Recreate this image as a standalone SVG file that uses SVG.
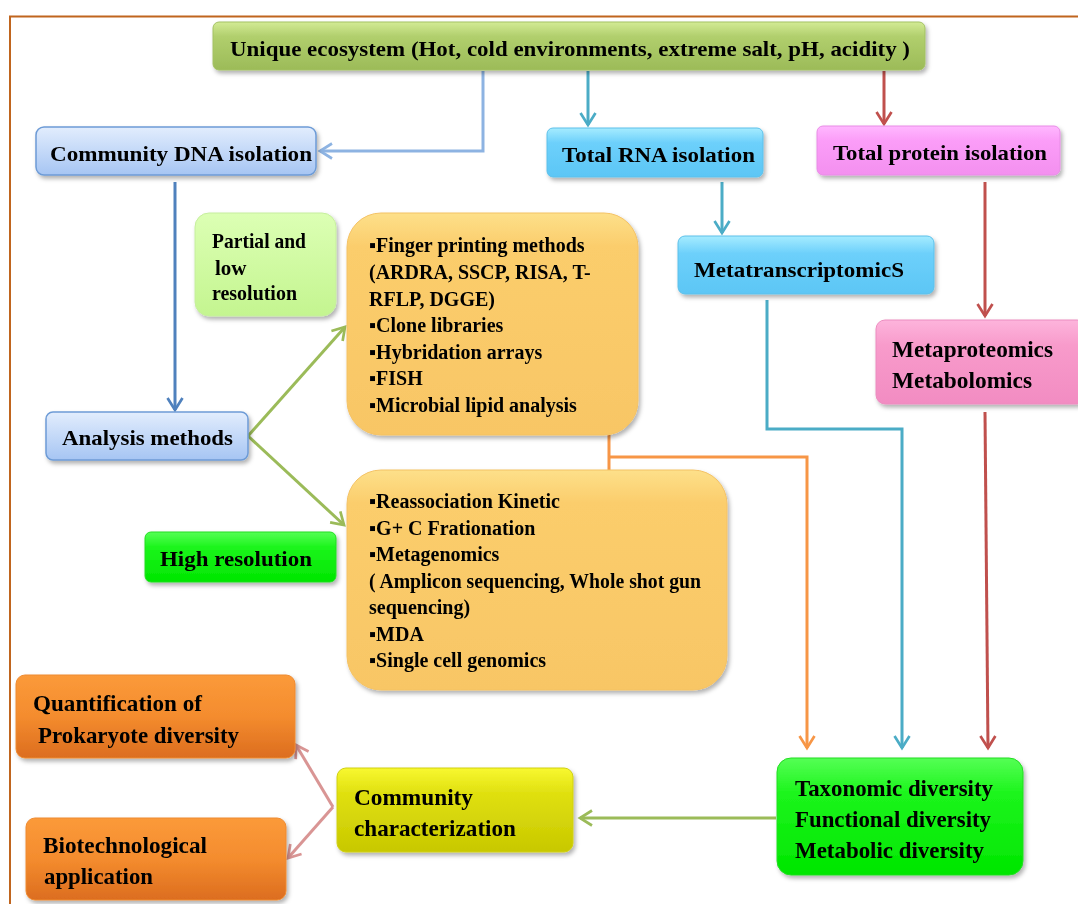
<svg xmlns="http://www.w3.org/2000/svg" width="1078" height="904" viewBox="0 0 1078 904">
<defs>
<style>
.t{font-family:"Liberation Serif","Times New Roman",serif;font-weight:bold;fill:#000;}
.t22{font-size:22px;}
.t23{font-size:23px;}
.t20{font-size:20px;}
.t21{font-size:21px;}
.c{fill:none;stroke-width:3;}
</style>
<filter id="sh" x="-10%" y="-10%" width="125%" height="130%">
<feDropShadow dx="2" dy="3" stdDeviation="2" flood-color="#000" flood-opacity="0.3"/>
</filter>
<linearGradient id="gTop" x1="0" y1="0" x2="0" y2="1"><stop offset="0" stop-color="#d3eb95"/><stop offset="0.3" stop-color="#b1cf6d"/><stop offset="1" stop-color="#9cbb58"/></linearGradient>
<linearGradient id="gBlue" x1="0" y1="0" x2="0" y2="1"><stop offset="0" stop-color="#e2edfd"/><stop offset="1" stop-color="#a6c5f3"/></linearGradient>
<linearGradient id="gCyan" x1="0" y1="0" x2="0" y2="1"><stop offset="0" stop-color="#a6ecff"/><stop offset="0.3" stop-color="#6dd0fb"/><stop offset="1" stop-color="#5cc6f5"/></linearGradient>
<linearGradient id="gPink" x1="0" y1="0" x2="0" y2="1"><stop offset="0" stop-color="#ffb8ff"/><stop offset="0.3" stop-color="#fb9df8"/><stop offset="1" stop-color="#f390ef"/></linearGradient>
<linearGradient id="gLGreen" x1="0" y1="0" x2="0" y2="1"><stop offset="0" stop-color="#dcffb4"/><stop offset="1" stop-color="#c4f590"/></linearGradient>
<linearGradient id="gOr" x1="0" y1="0" x2="0" y2="1"><stop offset="0" stop-color="#fde08a"/><stop offset="0.15" stop-color="#fbcd6c"/><stop offset="1" stop-color="#f8c665"/></linearGradient>
<linearGradient id="gMP" x1="0" y1="0" x2="0" y2="1"><stop offset="0" stop-color="#fdb4dc"/><stop offset="0.3" stop-color="#f89bcb"/><stop offset="1" stop-color="#f28cc2"/></linearGradient>
<linearGradient id="gHG" x1="0" y1="0" x2="0" y2="1"><stop offset="0" stop-color="#55ff55"/><stop offset="0.3" stop-color="#1cf51c"/><stop offset="1" stop-color="#00e600"/></linearGradient>
<linearGradient id="gDO" x1="0" y1="0" x2="0" y2="1"><stop offset="0" stop-color="#fb9a3a"/><stop offset="0.5" stop-color="#f48c2e"/><stop offset="1" stop-color="#dc6d1f"/></linearGradient>
<linearGradient id="gY" x1="0" y1="0" x2="0" y2="1"><stop offset="0" stop-color="#f8f830"/><stop offset="0.3" stop-color="#e0e010"/><stop offset="1" stop-color="#c8c800"/></linearGradient>
<marker id="mLB" viewBox="0 0 12 12" refX="9" refY="6" markerWidth="6" markerHeight="6" orient="auto" markerUnits="strokeWidth"><path d="M1,1 L9,6 L1,11" fill="none" stroke="#8db3e2" stroke-width="1.8"/></marker>
<marker id="mB" viewBox="0 0 12 12" refX="9" refY="6" markerWidth="6" markerHeight="6" orient="auto" markerUnits="strokeWidth"><path d="M1,1 L9,6 L1,11" fill="none" stroke="#4f81bd" stroke-width="1.8"/></marker>
<marker id="mT" viewBox="0 0 12 12" refX="9" refY="6" markerWidth="6" markerHeight="6" orient="auto" markerUnits="strokeWidth"><path d="M1,1 L9,6 L1,11" fill="none" stroke="#4bacc6" stroke-width="1.8"/></marker>
<marker id="mR" viewBox="0 0 12 12" refX="9" refY="6" markerWidth="6" markerHeight="6" orient="auto" markerUnits="strokeWidth"><path d="M1,1 L9,6 L1,11" fill="none" stroke="#c0504d" stroke-width="1.8"/></marker>
<marker id="mG" viewBox="0 0 12 12" refX="9" refY="6" markerWidth="6" markerHeight="6" orient="auto" markerUnits="strokeWidth"><path d="M1,1 L9,6 L1,11" fill="none" stroke="#9bbb59" stroke-width="1.8"/></marker>
<marker id="mO" viewBox="0 0 12 12" refX="9" refY="6" markerWidth="6" markerHeight="6" orient="auto" markerUnits="strokeWidth"><path d="M1,1 L9,6 L1,11" fill="none" stroke="#f79646" stroke-width="1.8"/></marker>
<marker id="mP" viewBox="0 0 12 12" refX="9" refY="6" markerWidth="6" markerHeight="6" orient="auto" markerUnits="strokeWidth"><path d="M1,1 L9,6 L1,11" fill="none" stroke="#d99594" stroke-width="1.8"/></marker>
</defs>
<rect width="1078" height="904" fill="#fff"/>
<path d="M10,904 L10,16.5 L1078,16.5" fill="none" stroke="#c0651e" stroke-width="2"/>

<g id="connectors">
<path class="c" d="M483,71 L483,151 L320,151" stroke="#8db3e2" marker-end="url(#mLB)"/>
<path class="c" d="M588,71 L588,125" stroke="#4bacc6" marker-end="url(#mT)"/>
<path class="c" d="M884,71 L884,124" stroke="#c0504d" marker-end="url(#mR)"/>
<path class="c" d="M175,182 L175,410" stroke="#4f81bd" marker-end="url(#mB)"/>
<path class="c" d="M722,182 L722,233" stroke="#4bacc6" marker-end="url(#mT)"/>
<path class="c" d="M985,182 L985,316" stroke="#c0504d" marker-end="url(#mR)"/>
<path class="c" d="M248,436 L345,327" stroke="#9bbb59" marker-end="url(#mG)"/>
<path class="c" d="M248,436 L344,525" stroke="#9bbb59" marker-end="url(#mG)"/>
<path class="c" d="M609,435 L609,470 M609,457 L807,457 L807,748" stroke="#f79646" marker-end="url(#mO)"/>
<path class="c" d="M767,300 L767,429 L902,429 L902,748" stroke="#4bacc6" marker-end="url(#mT)"/>
<path class="c" d="M985,412 L988,748" stroke="#c0504d" marker-end="url(#mR)"/>
<path class="c" d="M776,818 L580,818" stroke="#9bbb59" marker-end="url(#mG)"/>
<path class="c" d="M333,807 L296,745" stroke="#d99594" marker-end="url(#mP)"/>
<path class="c" d="M333,807 L288,858" stroke="#d99594" marker-end="url(#mP)"/>
</g>

<g id="n-ecosystem" filter="url(#sh)">
<rect x="213" y="22" width="712" height="48" rx="6" fill="url(#gTop)" stroke="#a3c163" stroke-width="1"/>
<text class="t t22" x="230" y="56" textLength="680" lengthAdjust="spacingAndGlyphs">Unique ecosystem (Hot, cold environments, extreme salt, pH, acidity )</text>
</g>

<g id="n-dna" filter="url(#sh)">
<rect x="36" y="127" width="280" height="48" rx="8" fill="url(#gBlue)" stroke="#6d9bd6" stroke-width="1.5"/>
<text class="t t22" x="50" y="161" textLength="262" lengthAdjust="spacingAndGlyphs">Community DNA isolation</text>
</g>

<g id="n-rna" filter="url(#sh)">
<rect x="547" y="128" width="216" height="49" rx="6" fill="url(#gCyan)" stroke="#5cc0ea" stroke-width="1"/>
<text class="t t22" x="562" y="162" textLength="193" lengthAdjust="spacingAndGlyphs">Total RNA isolation</text>
</g>

<g id="n-protein" filter="url(#sh)">
<rect x="817" y="126" width="243" height="49" rx="6" fill="url(#gPink)" stroke="#e88ce6" stroke-width="1"/>
<text class="t t22" x="833" y="160" textLength="214" lengthAdjust="spacingAndGlyphs">Total protein isolation</text>
</g>

<g id="n-partial" filter="url(#sh)">
<rect x="195" y="213" width="141" height="103" rx="14" fill="url(#gLGreen)" stroke="#c6ee9e" stroke-width="1"/>
<text class="t t21" x="212" y="248" textLength="94" lengthAdjust="spacingAndGlyphs">Partial and</text>
<text class="t t21" x="215" y="275">low</text>
<text class="t t21" x="212" y="300" textLength="85" lengthAdjust="spacingAndGlyphs">resolution</text>
</g>

<g id="n-low-methods" filter="url(#sh)">
<rect x="347" y="213" width="291" height="222" rx="34" fill="url(#gOr)" stroke="#f4c265" stroke-width="1"/>
<text class="t t20" x="369" y="252">▪Finger printing methods</text>
<text class="t t20" x="369" y="279">(ARDRA, SSCP, RISA, T-</text>
<text class="t t20" x="369" y="306">RFLP, DGGE)</text>
<text class="t t20" x="369" y="332">▪Clone libraries</text>
<text class="t t20" x="369" y="359">▪Hybridation arrays</text>
<text class="t t20" x="369" y="385">▪FISH</text>
<text class="t t20" x="369" y="412">▪Microbial lipid analysis</text>
</g>

<g id="n-metatranscriptomics" filter="url(#sh)">
<rect x="678" y="236" width="256" height="58" rx="7" fill="url(#gCyan)" stroke="#5cc0ea" stroke-width="1"/>
<text class="t t22" x="694" y="277" textLength="210" lengthAdjust="spacingAndGlyphs">MetatranscriptomicS</text>
</g>

<g id="n-metaproteomics" filter="url(#sh)">
<rect x="876" y="320" width="210" height="84" rx="9" fill="url(#gMP)" stroke="#ec8cbf" stroke-width="1"/>
<text class="t t23" x="892" y="357" textLength="161" lengthAdjust="spacingAndGlyphs">Metaproteomics</text>
<text class="t t23" x="892" y="388" textLength="140" lengthAdjust="spacingAndGlyphs">Metabolomics</text>
</g>

<g id="n-analysis" filter="url(#sh)">
<rect x="46" y="412" width="202" height="48" rx="7" fill="url(#gBlue)" stroke="#6d9bd6" stroke-width="1.5"/>
<text class="t t22" x="62" y="445" textLength="171" lengthAdjust="spacingAndGlyphs">Analysis methods</text>
</g>

<g id="n-high" filter="url(#sh)">
<rect x="145" y="532" width="191" height="50" rx="6" fill="url(#gHG)" stroke="#22dd22" stroke-width="1"/>
<text class="t t22" x="160" y="566" textLength="152" lengthAdjust="spacingAndGlyphs">High resolution</text>
</g>

<g id="n-high-methods" filter="url(#sh)">
<rect x="347" y="470" width="380" height="220" rx="34" fill="url(#gOr)" stroke="#f4c265" stroke-width="1"/>
<text class="t t20" x="369" y="508">▪Reassociation Kinetic</text>
<text class="t t20" x="369" y="535">▪G+ C Frationation</text>
<text class="t t20" x="369" y="561">▪Metagenomics</text>
<text class="t t20" x="369" y="588" textLength="332" lengthAdjust="spacingAndGlyphs">( Amplicon sequencing, Whole shot gun</text>
<text class="t t20" x="369" y="614">sequencing)</text>
<text class="t t20" x="369" y="641">▪MDA</text>
<text class="t t20" x="369" y="667">▪Single cell genomics</text>
</g>

<g id="n-quantification" filter="url(#sh)">
<rect x="16" y="675" width="279" height="83" rx="9" fill="url(#gDO)" stroke="#ee8a30" stroke-width="1"/>
<text class="t t23" x="33" y="711" textLength="169" lengthAdjust="spacingAndGlyphs">Quantification of</text>
<text class="t t23" x="38" y="743" textLength="201" lengthAdjust="spacingAndGlyphs">Prokaryote diversity</text>
</g>

<g id="n-biotech" filter="url(#sh)">
<rect x="26" y="818" width="260" height="82" rx="9" fill="url(#gDO)" stroke="#ee8a30" stroke-width="1"/>
<text class="t t23" x="43" y="853" textLength="164" lengthAdjust="spacingAndGlyphs">Biotechnological</text>
<text class="t t23" x="44" y="884" textLength="109" lengthAdjust="spacingAndGlyphs">application</text>
</g>

<g id="n-community" filter="url(#sh)">
<rect x="337" y="768" width="236" height="84" rx="9" fill="url(#gY)" stroke="#d0d010" stroke-width="1"/>
<text class="t t23" x="354" y="805" textLength="119" lengthAdjust="spacingAndGlyphs">Community</text>
<text class="t t23" x="354" y="836" textLength="162" lengthAdjust="spacingAndGlyphs">characterization</text>
</g>

<g id="n-diversity" filter="url(#sh)">
<rect x="777" y="758" width="246" height="117" rx="14" fill="url(#gHG)" stroke="#22dd22" stroke-width="1"/>
<text class="t t23" x="795" y="796" textLength="198" lengthAdjust="spacingAndGlyphs">Taxonomic diversity</text>
<text class="t t23" x="795" y="827" textLength="196" lengthAdjust="spacingAndGlyphs">Functional diversity</text>
<text class="t t23" x="795" y="858" textLength="189" lengthAdjust="spacingAndGlyphs">Metabolic diversity</text>
</g>
</svg>
